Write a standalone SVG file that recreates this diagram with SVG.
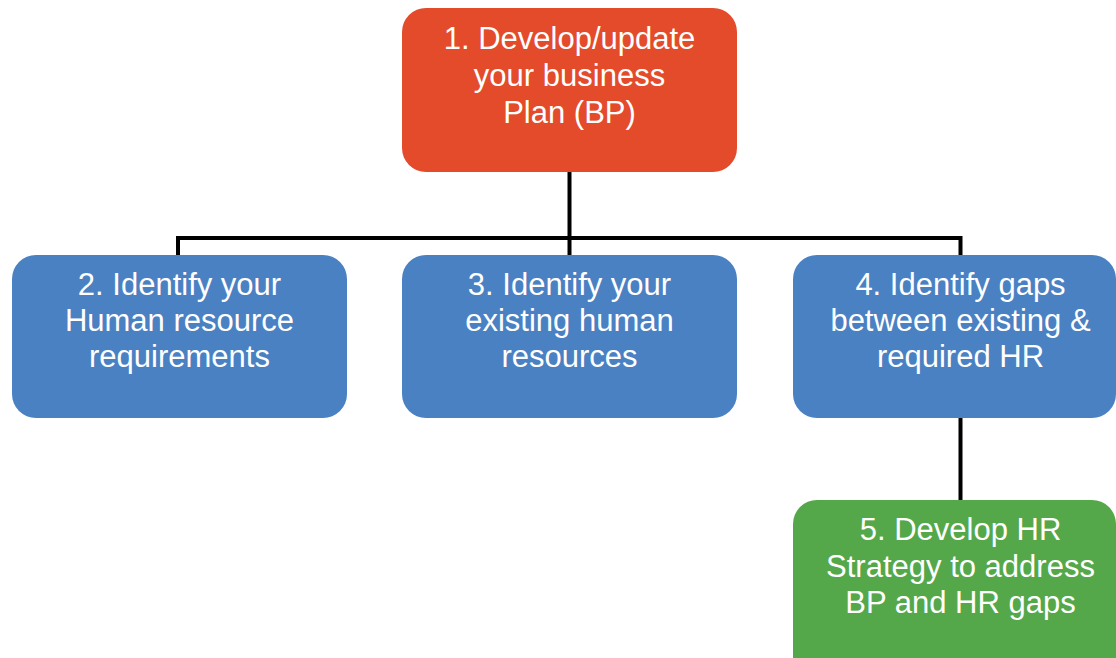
<svg xmlns="http://www.w3.org/2000/svg" width="1116" height="658" viewBox="0 0 1116 658">
  <style>
    .box { stroke: none; }
    .red { fill: #E34B2B; }
    .blue { fill: #4A81C3; }
    .green { fill: #55A84A; }
    .label { font-family: "Liberation Sans", Arial, sans-serif; font-size: 31px; fill: #FFFFFF; text-anchor: middle; }
    .wire { stroke: #000000; stroke-width: 4; fill: none; }
  </style>
  <rect width="1116" height="658" fill="#FFFFFF"/>

  <g id="connectors">
    <path class="wire" d="M569.5,172 V238"/>
    <path class="wire" d="M178,255 V238 H960.5 V255"/>
    <path class="wire" d="M569.5,238 V255"/>
    <path class="wire" d="M960.5,418 V500"/>
  </g>

  <g id="node1">
    <rect class="box red" x="402" y="8" width="335" height="164" rx="24"/>
    <text class="label" x="569.5" y="49">1. Develop/update</text>
    <text class="label" x="569.5" y="86">your business</text>
    <text class="label" x="569.5" y="123">Plan (BP)</text>
  </g>

  <g id="node2">
    <rect class="box blue" x="12" y="255" width="335" height="163" rx="24"/>
    <text class="label" x="179.5" y="295">2. Identify your</text>
    <text class="label" x="179.5" y="331">Human resource</text>
    <text class="label" x="179.5" y="367">requirements</text>
  </g>

  <g id="node3">
    <rect class="box blue" x="402" y="255" width="335" height="163" rx="24"/>
    <text class="label" x="569.5" y="295">3. Identify your</text>
    <text class="label" x="569.5" y="331">existing human</text>
    <text class="label" x="569.5" y="367">resources</text>
  </g>

  <g id="node4">
    <rect class="box blue" x="793" y="255" width="323" height="163" rx="24"/>
    <text class="label" x="960.5" y="295">4. Identify gaps</text>
    <text class="label" x="960.5" y="331">between existing &amp;</text>
    <text class="label" x="960.5" y="367">required HR</text>
  </g>

  <g id="node5">
    <rect class="box green" x="793" y="500" width="323" height="180" rx="24"/>
    <text class="label" x="960.5" y="540">5. Develop HR</text>
    <text class="label" x="960.5" y="577">Strategy to address</text>
    <text class="label" x="960.5" y="613">BP and HR gaps</text>
  </g>
</svg>
